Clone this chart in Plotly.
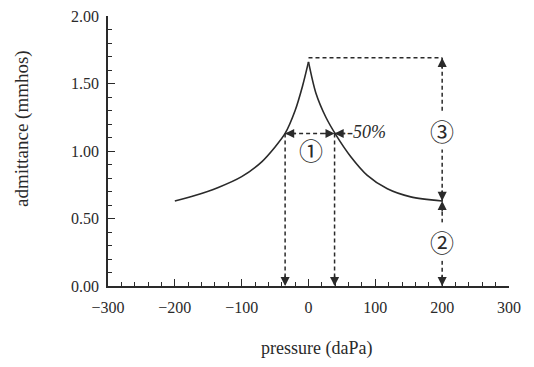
import plotly.graph_objects as go

# curve (tympanogram)
pressure_left = [-200, -170, -135, -100, -70, -50, -35, -20, -9, 0]
admit_left = [0.63, 0.67, 0.73, 0.81, 0.92, 1.03, 1.13, 1.30, 1.48, 1.66]
pressure_right = [0, 11, 26, 41, 63, 88, 118, 153, 200]
admit_right = [1.66, 1.43, 1.25, 1.12, 0.96, 0.82, 0.72, 0.66, 0.63]

# annotation values
peak_level = 1.69
peak_x = 0
half_level = 1.13
half_left = -35
half_right = 39
tail_x = 200
tail_level = 0.63
pct_label_x = 55

x_ticks = [-300, -200, -100, 0, 100, 200, 300]
x_ticktext = ["\u2212300", "\u2212200", "\u2212100", "0", "100", "200", "300"]
y_ticks = [0.0, 0.5, 1.0, 1.5, 2.0]
y_ticktext = ["0.00", "0.50", "1.00", "1.50", "2.00"]

INK = "#2a2a2a"
SERIF = "Liberation Serif"
CIRC = "Noto Sans CJK JP"

fig = go.Figure()
for px_, py_ in [(pressure_left, admit_left), (pressure_right, admit_right)]:
    fig.add_trace(go.Scatter(x=px_, y=py_, mode="lines",
                             line=dict(color=INK, width=1.6, shape="spline", smoothing=0.8),
                             showlegend=False, hoverinfo="skip"))

dash = dict(color=INK, width=1.5, dash="4px,3px")
segments = [
    ([peak_x, tail_x], [peak_level, peak_level]),
    ([tail_x, tail_x], [peak_level, 0]),
    ([half_left, half_right], [half_level, half_level]),
    ([half_left, half_left], [half_level, 0]),
    ([half_right, half_right], [half_level, 0]),
    ([half_right, pct_label_x], [half_level, half_level]),
]
for xs, ys in segments:
    fig.add_trace(go.Scatter(x=xs, y=ys, mode="lines", line=dash,
                             showlegend=False, hoverinfo="skip"))

annotations = []
def arrow(x, y, ax, ay):
    annotations.append(dict(x=x, y=y, ax=ax, ay=ay, xref="x", yref="y", text="",
                            showarrow=True, arrowhead=2, arrowsize=1.3, arrowwidth=1.4,
                            arrowcolor=INK))

arrow(tail_x, peak_level, 0, 12)
arrow(tail_x, tail_level, 0, -12)
arrow(tail_x, tail_level, 0, 12)
arrow(tail_x, 0, 0, -12)
arrow(half_left, 0, 0, -12)
arrow(half_right, 0, 0, -12)
arrow(half_left, half_level, 12, 0)
arrow(half_right, half_level, -12, 0)
arrow(half_right, half_level, 12, 0)

annotations += [
    dict(x=4, y=1.01, xref="x", yref="y", text="\u2460", showarrow=False,
         font=dict(family=CIRC, size=24, color=INK)),
    dict(x=tail_x, y=1.15, xref="x", yref="y", text="\u2462", showarrow=False,
         bgcolor="white", font=dict(family=CIRC, size=24, color=INK)),
    dict(x=tail_x, y=0.33, xref="x", yref="y", text="\u2461", showarrow=False,
         bgcolor="white", font=dict(family=CIRC, size=24, color=INK)),
    dict(x=pct_label_x, y=half_level + 0.01, xref="x", yref="y", text="<i>-50%</i>",
         showarrow=False, xanchor="left", font=dict(family=SERIF, size=18, color=INK)),
    dict(x=-0.2145, y=0.585, xref="paper", yref="paper", text="admittance (mmhos)",
         textangle=-90, showarrow=False, xanchor="center", yanchor="middle",
         font=dict(family=SERIF, size=19, color=INK)),
    dict(x=0.521, y=-0.23, xref="paper", yref="paper", text="pressure (daPa)",
         showarrow=False, xanchor="center", yanchor="middle",
         font=dict(family=SERIF, size=18, color=INK)),
]

axis_common = dict(showgrid=False, zeroline=False, showline=True, linecolor=INK,
                   linewidth=1.5, ticks="inside", ticklen=7, tickwidth=1.3, tickcolor=INK,
                   automargin=False, ticklabeloverflow="allow",
                   tickfont=dict(family=SERIF, size=16, color=INK))

fig.update_xaxes(range=[-300, 300], tickvals=x_ticks, ticktext=x_ticktext,
                 minor=dict(ticks="inside", dtick=20, ticklen=4, tickcolor=INK, tickwidth=1.2),
                 ticklabelstandoff=6, **axis_common)
fig.update_yaxes(range=[0, 2], tickvals=y_ticks, ticktext=y_ticktext,
                 minor=dict(ticks="inside", dtick=0.1, ticklen=4, tickcolor=INK, tickwidth=1.2),
                 ticklabelstandoff=4, **axis_common)

fig.update_layout(width=518, height=351, margin=dict(l=100, r=17, t=8, b=73),
                  plot_bgcolor="white", paper_bgcolor="white", annotations=annotations)

fig.write_html("out.html")
